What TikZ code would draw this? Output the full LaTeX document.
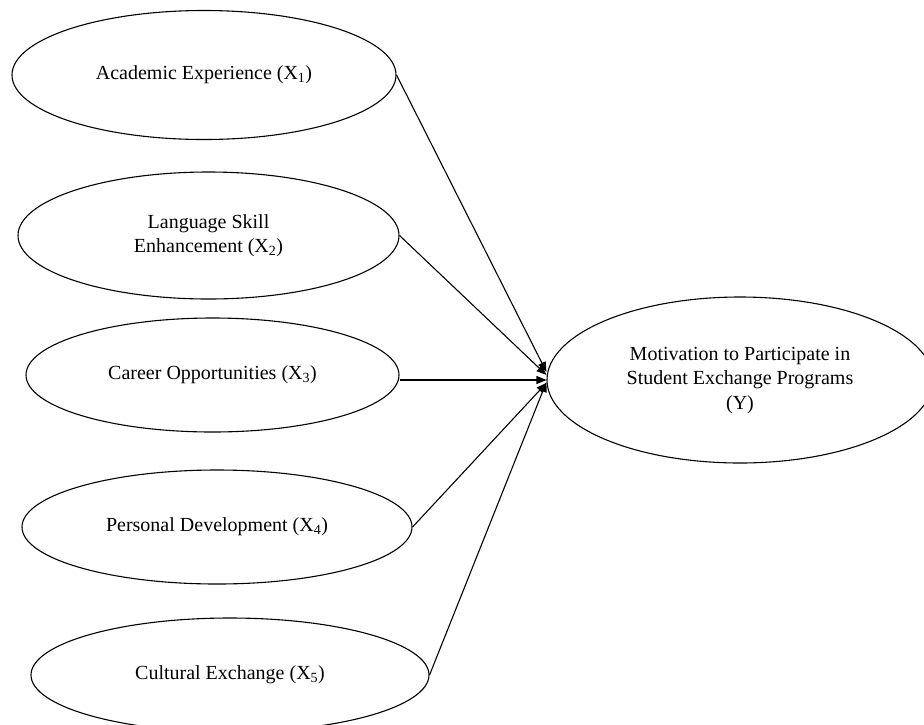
\documentclass[tikz,border=0pt]{standalone}
\usepackage{fontspec}
\setmainfont{Liberation Serif}
\usetikzlibrary{shapes.geometric,arrows.meta}
\tikzset{
  var/.style={draw, ellipse, line width=1.1pt, inner sep=0pt, align=center,
    font=\fontsize{20}{24.5}\selectfont},
  link/.style={line width=1.1pt, -{Triangle[length=10pt,width=8pt]}}
}
\begin{document}
\begin{tikzpicture}[x=1pt,y=-1pt]
\useasboundingbox (0,0) rectangle (924,724);
\clip (0,0) rectangle (924,724);
\node[var, minimum width=384pt, minimum height=129pt] (E1) at (204,75) {Academic Experience (X\textsubscript{1})};
\node[var, minimum width=381pt, minimum height=127pt] (E2) at (208.5,235.5) {Language Skill\\Enhancement (X\textsubscript{2})};
\node[var, minimum width=373pt, minimum height=114pt] (E3) at (212.5,375) {Career Opportunities (X\textsubscript{3})};
\node[var, minimum width=390pt, minimum height=114pt] (E4) at (217,527) {Personal Development (X\textsubscript{4})};
\node[var, minimum width=398pt, minimum height=114pt] (E5) at (230,675) {Cultural Exchange (X\textsubscript{5})};
\node[var, minimum width=386pt, minimum height=166pt] (Y) at (740,380) {Motivation to Participate in\\Student Exchange Programs\\(Y)};
\draw[link] (E1.east) -- ([yshift=8pt]Y.west);
\draw[link] (E2.east) -- ([yshift=5pt]Y.west);
\draw[link] (E3.east |- Y.west) -- (Y.west);
\draw[link] (E4.east) -- ([yshift=-3pt]Y.west);
\draw[link] (E5.east) -- ([yshift=-2pt]Y.west);
\end{tikzpicture}
\end{document}
